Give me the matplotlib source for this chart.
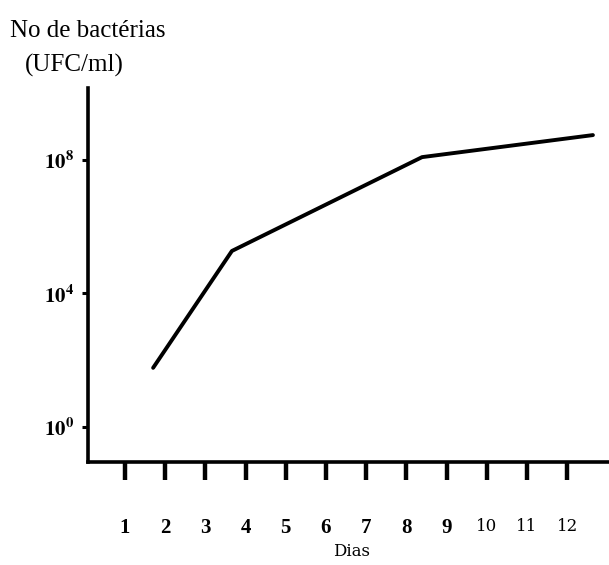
import matplotlib
matplotlib.use("Agg")
import matplotlib.pyplot as plt

plt.rcParams["mathtext.fontset"] = "stix"

days = [1.7, 3.66, 8.39, 12.64]
log_ufc = [1.77, 5.27, 8.08, 8.74]
ufc = [10 ** v for v in log_ufc]
x_ticks = list(range(1, 13))
x_labels = [str(d) for d in x_ticks]
y_ticks = [1, 1e4, 1e8]
y_labels = [r"$\mathbf{10^0}$", r"$\mathbf{10^4}$", r"$\mathbf{10^8}$"]

W, H = 609, 565
fig = plt.figure(figsize=(W / 100, H / 100), dpi=100)
ax = fig.add_axes([88 / W, 1 - 462 / H, 1 - 88 / W, (462 - 88) / H])

ax.plot(days, ufc, color="black", lw=2.8, solid_capstyle="round")
ax.set_yscale("log")
ax.set_xlim(0.08, 13.04)
ax.set_ylim(10 ** -1.05, 10 ** 10.15)

for s in ["top", "right"]:
    ax.spines[s].set_visible(False)
for s in ["left", "bottom"]:
    ax.spines[s].set_linewidth(2.6)

ax.set_xticks(x_ticks)
ax.set_xticklabels(x_labels)
ax.tick_params(axis="x", direction="out", length=13, width=3.2, pad=27)
for lab, d in zip(ax.get_xticklabels(), x_ticks):
    if d < 10:
        lab.set_fontfamily("Liberation Serif")
        lab.set_fontweight("bold")
        lab.set_fontsize(15)
    else:
        lab.set_fontfamily("DejaVu Serif")
        lab.set_fontsize(12)

ax.set_yticks(y_ticks)
ax.set_yticklabels(y_labels)
ax.yaxis.set_minor_locator(matplotlib.ticker.NullLocator())
ax.tick_params(axis="y", direction="out", length=4, width=2.2, pad=6, labelsize=15)

fig.text(10 / W, 1 - 31 / H, "No de bactérias", fontfamily="Liberation Serif",
         fontsize=18, ha="left", va="center")
fig.text(25 / W, 1 - 65 / H, "(UFC/ml)", fontfamily="Liberation Serif",
         fontsize=18, ha="left", va="center")
fig.text(352 / W, 1 - 551 / H, "Dias", fontfamily="DejaVu Serif",
         fontsize=12, ha="center", va="center")

fig.savefig("out.png", dpi=100)
